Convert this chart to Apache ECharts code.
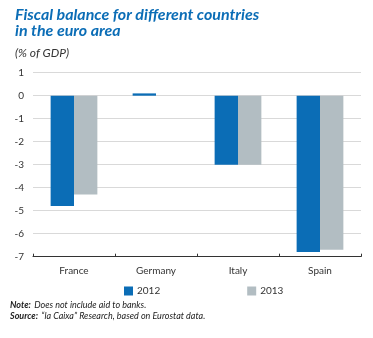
<!DOCTYPE html>
<html><head><meta charset="utf-8">
<script src="https://cdn.jsdelivr.net/npm/echarts@6/dist/echarts.min.js"></script>
<style>html,body{margin:0;padding:0;background:#fff}#c{width:373px;height:338px}</style>
</head><body><div id="c"></div>
<script>
const categories = ['France', 'Germany', 'Italy', 'Spain'];
const series2012 = [-4.8, 0.1, -3.0, -6.8];
const series2013 = [-4.3, 0.0, -3.0, -6.7];
const yTicks = [1, 0, -1, -2, -3, -4, -5, -6, -7];

const chart = echarts.init(document.getElementById('c'));
const BLUE = '#0b6db6', GRAY = '#b2bdc2';
chart.setOption({
  animation: false,
  textStyle: { fontFamily: 'Lato' },
  title: [{
    text: 'Fiscal balance for different countries\nin the euro area',
    left: 10, top: 2,
    textStyle: { fontFamily: 'Lato', fontStyle: 'italic', fontWeight: 'bold', fontSize: 16, lineHeight: 16, color: BLUE }
  }, {
    text: '(% of GDP)',
    left: 10, top: 42,
    textStyle: { fontFamily: 'Lato', fontStyle: 'italic', fontWeight: 'normal', fontSize: 12, color: '#333' }
  }],
  grid: { left: 33, right: 12, top: 72.7, bottom: 81.3, containLabel: false },
  legend: {
    data: ['2012', '2013'],
    top: 281, left: 119, padding: 5,
    itemWidth: 9, itemHeight: 9, itemGap: 87, icon: 'rect',
    textStyle: { fontSize: 10, color: '#333', fontFamily: 'Lato', padding: [0, 0, 0, -1] }
  },
  xAxis: [{
    type: 'category', data: categories, position: 'bottom',
    axisLine: { show: false }, axisTick: { show: false },
    axisLabel: { fontSize: 10, color: '#333', margin: 9 }
  }, {
    type: 'category', data: categories, position: 'bottom',
    axisLine: { onZero: true, lineStyle: { color: '#333', width: 1 } },
    axisTick: { show: true, inside: true, length: 3, lineStyle: { color: '#333' } },
    axisLabel: { show: false }
  }],
  yAxis: {
    type: 'value', min: -7, max: 1, interval: 1,
    axisLine: { show: false }, axisTick: { show: false },
    axisLabel: { fontSize: 10, color: '#333', margin: 9,
      formatter: v => yTicks.includes(v) ? String(v) : '' },
    splitLine: { lineStyle: { color: '#d9d9d9', width: 1 } }
  },
  series: [{
    name: '2012', type: 'bar', data: series2012, xAxisIndex: 0,
    itemStyle: { color: BLUE }, barGap: '0%', barCategoryGap: '43%'
  }, {
    name: '2013', type: 'bar', data: series2013, xAxisIndex: 0,
    itemStyle: { color: GRAY }, barGap: '0%', barCategoryGap: '43%'
  }],
  graphic: [{
    type: 'text', left: 10, top: 299,
    style: { rich: { b: { fontWeight: 'bold', fontStyle: 'italic', fontSize: 9, fontFamily: 'Lato', fill: '#222' },
                     n: { fontStyle: 'italic', fontSize: 9, fontFamily: 'Lato', fill: '#222' } },
      text: '{b|Note:} {n|Does not include aid to banks.}' }
  }, {
    type: 'text', left: 10, top: 310,
    style: { rich: { b: { fontWeight: 'bold', fontStyle: 'italic', fontSize: 9, fontFamily: 'Lato', fill: '#222' },
                     n: { fontStyle: 'italic', fontSize: 9, fontFamily: 'Lato', fill: '#222' } },
      text: '{b|Source:} {n|“la Caixa” Research, based on Eurostat data.}' }
  }]
});
</script></body></html>
